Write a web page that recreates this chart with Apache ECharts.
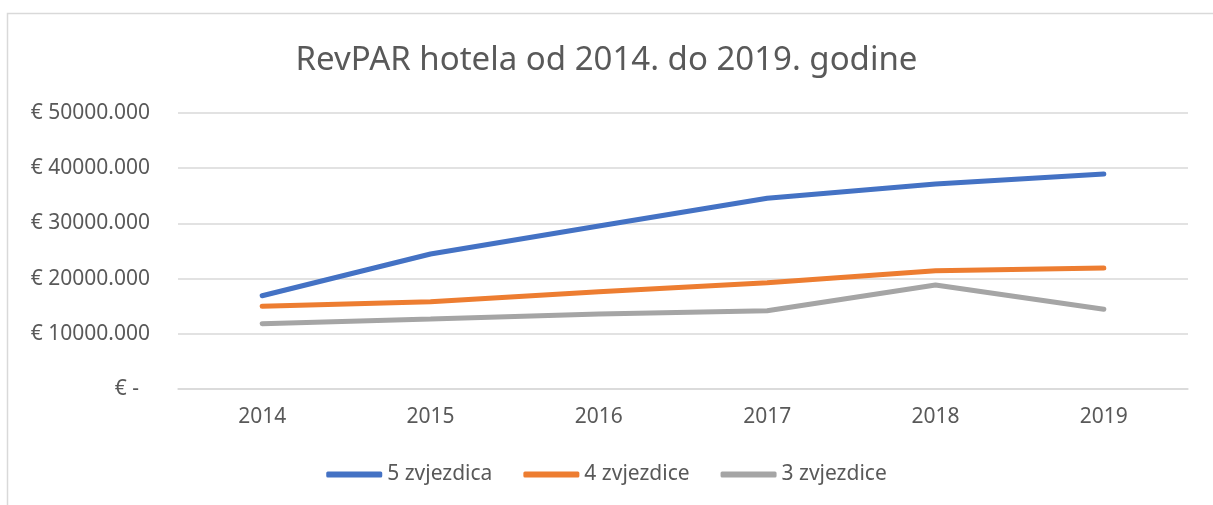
<!DOCTYPE html>
<html>
<head>
<meta charset="utf-8">
<script src="https://cdn.jsdelivr.net/npm/echarts@6/dist/echarts.min.js"></script>
<style>
  html, body { margin: 0; padding: 0; background: #fff; }
  #chart { width: 1213px; height: 505px; }
</style>
</head>
<body>
<div id="chart"></div>
<script>
// godine
const years = ['2014', '2015', '2016', '2017', '2018', '2019']

// RevPAR po kategoriji hotela
const pet = [16900, 24460, 29530, 34550, 37140, 38950]
const cetiri = [14980, 15820, 17630, 19260, 21430, 21920]
const tri = [11830, 12680, 13590, 14190, 18840, 14440]

const seriesNames = ['5 zvjezdica', '4 zvjezdice', '3 zvjezdice']
const colors = ['#4472C4', '#ED7D31', '#A5A5A5']

const chart = echarts.init(document.getElementById('chart'))

const makeLine = (name, data, color) => ({
  name: name,
  type: 'line',
  data: data,
  symbol: 'none',
  smooth: false,
  lineStyle: { color: color, width: 5, cap: 'round' },
  itemStyle: { color: color }
})

const option = {
  animation: false,
  textStyle: { fontFamily: 'Noto Sans' },
  graphic: [{
    type: 'rect',
    shape: { x: 7.5, y: 13.5, width: 1220, height: 520 },
    style: { fill: 'none', stroke: '#d9d9d9', lineWidth: 1.5 },
    silent: true
  }],
  title: {
    text: 'RevPAR hotela od 2014. do 2019. godine',
    left: 'center',
    top: 39,
    textStyle: {
      color: '#595959',
      fontSize: 33,
      fontWeight: 'normal',
      fontFamily: 'Noto Sans'
    }
  },
  legend: {
    data: seriesNames,
    bottom: 15,
    left: 'center',
    icon: 'roundRect',
    itemWidth: 56,
    itemHeight: 6,
    itemGap: 31,
    textStyle: { color: '#595959', fontSize: 21, fontFamily: 'Noto Sans' }
  },
  grid: {
    left: 178,
    right: 25,
    top: 113,
    bottom: 116
  },
  xAxis: {
    type: 'category',
    data: years,
    boundaryGap: true,
    axisLine: { show: true, lineStyle: { color: '#d9d9d9', width: 1.5 } },
    axisTick: { show: false },
    axisLabel: { color: '#595959', fontSize: 21, margin: 18 }
  },
  yAxis: {
    type: 'value',
    min: 0,
    max: 50000,
    interval: 10000,
    axisLine: { show: false },
    axisTick: { show: false },
    splitLine: { lineStyle: { color: '#d9d9d9', width: 1.5 } },
    axisLabel: {
      color: '#595959',
      fontSize: 21,
      margin: 28,
      formatter: function (v) {
        return v === 0 ? '€ -  ' : '€ ' + v + '.000'
      }
    }
  },
  series: [
    makeLine(seriesNames[0], pet, colors[0]),
    makeLine(seriesNames[1], cetiri, colors[1]),
    makeLine(seriesNames[2], tri, colors[2])
  ]
}

chart.setOption(option)
</script>
</body>
</html>
